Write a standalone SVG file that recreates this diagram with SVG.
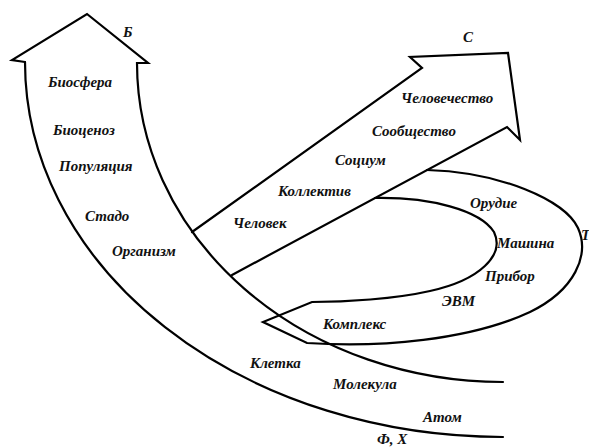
<svg xmlns="http://www.w3.org/2000/svg" width="589" height="447" viewBox="0 0 589 447">
<style>
.ln{fill:none;stroke:#000;stroke-width:2.2;stroke-linejoin:miter;stroke-linecap:round}
.lbl{font-family:"Liberation Serif","Times New Roman",serif;font-style:italic;font-weight:bold;font-size:15px;fill:#111}
.hd{font-family:"Liberation Serif","Times New Roman",serif;font-style:italic;font-weight:bold;font-size:15px;fill:#111}
</style>
<rect width="589" height="447" fill="#fff"/>
<g id="connectors">
</g>
<g id="arrow-bio">
<path class="ln" d="M25,62 L12,60 L87,14 L148,63 L137,63 A366,319 0 0 0 503,382"/>
<path class="ln" d="M25,62 A478,375 0 0 0 503,437"/>
<text class="hd" x="123" y="37">Б</text>
<text class="lbl" x="48" y="87">Биосфера</text>
<text class="lbl" x="53" y="135">Биоценоз</text>
<text class="lbl" x="59" y="171">Популяция</text>
<text class="lbl" x="85" y="221">Стадо</text>
<text class="lbl" x="112" y="256">Организм</text>
<text class="lbl" x="250" y="368">Клетка</text>
<text class="lbl" x="333" y="389">Молекула</text>
<text class="lbl" x="423" y="422">Атом</text>
<text class="hd" x="377" y="444">Ф, Х</text>
</g>
<g id="arrow-social">
<path class="ln" d="M192,232 L422,68 L410,57 L508,53 L520,140 L507,127 L232,275"/>
<text class="hd" x="463" y="42">С</text>
<text class="lbl" x="401" y="103">Человечество</text>
<text class="lbl" x="372" y="136">Сообщество</text>
<text class="lbl" x="335" y="165">Социум</text>
<text class="lbl" x="278" y="196">Коллектив</text>
<text class="lbl" x="233" y="228">Человек</text>
</g>
<g id="spiral-tech">
<path class="ln" d="M375,198 C430,197 480,210 494,232 C505,255 480,280 430,291 C395,299 345,302 312,302 L263,322 L307,343 C380,348 470,340 530,312 C575,290 590,255 578,228 C565,200 500,172 427,170"/>
<text class="lbl" x="470" y="208">Орудие</text>
<text class="lbl" x="497" y="248">Машина</text>
<text class="lbl" x="485" y="281">Прибор</text>
<text class="lbl" x="442" y="306">ЭВМ</text>
<text class="lbl" x="323" y="329">Комплекс</text>
<text class="hd" x="581" y="240">Т</text>
</g>
</svg>
